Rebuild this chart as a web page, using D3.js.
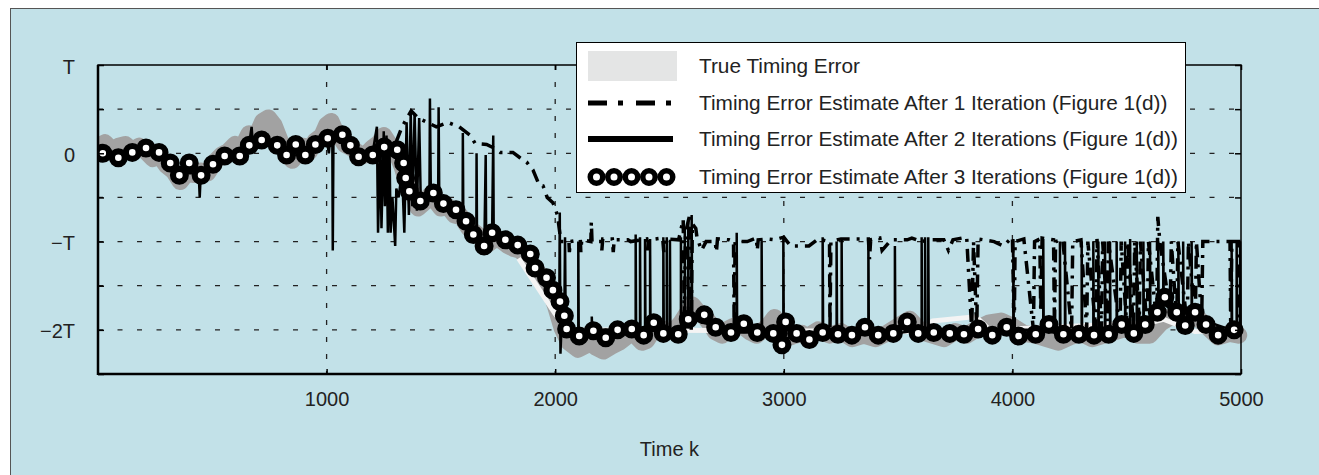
<!DOCTYPE html>
<html><head><meta charset="utf-8">
<script src="https://cdn.jsdelivr.net/npm/d3@7"></script>
<style>body{margin:0;background:#fff}svg{display:block}text{font-family:"Liberation Sans",Arial,sans-serif;fill:#222}</style>
</head><body><svg id="c" width="1319" height="475"></svg>
<script>
// ---------- data (units: k samples, T) ----------
const xTickValues = [1000, 2000, 3000, 4000, 5000];
const xTickLabels = ["1000", "2000", "3000", "4000", "5000"];
const yTickValues = [-2.5, -2, -1.5, -1, -0.5, 0, 0.5, 1];
const yTickLabels = ["", "\u22122T", "", "\u2212T", "", "0", "", "T"];
const legendLabels = [
  "True Timing Error",
  "Timing Error Estimate After 1 Iteration (Figure 1(d))",
  "Timing Error Estimate After 2 Iterations (Figure 1(d))",
  "Timing Error Estimate After 3 Iterations (Figure 1(d))"
];
// True timing error (noisy band)
const trueBand = [[0,0.08],[30,0.12],[60,0.04],[90,0.08],[120,0.1],[150,0.03],[180,0.08],[210,0.02],[240,-0.06],[270,-0.03],[300,-0.14],[330,-0.2],[360,-0.32],[390,-0.22],[420,-0.24],[450,-0.2],[480,-0.22],[510,-0.1],[540,-0.02],[570,0.02],[600,0.1],[630,0.06],[660,0.22],[690,0.18],[720,0.36],[745,0.4],[770,0.32],[800,0.12],[825,0.02],[850,-0.08],[880,0.02],[900,0.08],[925,0.02],[950,0.14],[980,0.2],[1000,0.32],[1020,0.36],[1040,0.24],[1060,0.18],[1080,0.1],[1110,0.06],[1140,0.0],[1170,-0.02],[1200,0.06],[1230,0.12],[1250,0.2],[1275,0.1],[1300,0.04],[1330,-0.15],[1350,-0.32],[1380,-0.45],[1400,-0.62],[1430,-0.55],[1450,-0.48],[1480,-0.55],[1500,-0.62],[1530,-0.6],[1560,-0.7],[1590,-0.72],[1620,-0.84],[1660,-0.92],[1700,-1.04],[1730,-0.98],[1760,-0.98],[1790,-1.04],[1820,-1.08],[1850,-1.1],[1880,-1.2],[1910,-1.3],[1940,-1.4],[1970,-1.5],[2000,-1.72],[2030,-1.98],[2060,-2.14],[2100,-2.22],[2130,-2.18],[2150,-2.14],[2180,-2.2],[2210,-2.24],[2250,-2.18],[2280,-2.14],[2300,-2.1],[2330,-2.04],[2350,-2.06],[2380,-2.14],[2400,-2.12],[2430,-2.0],[2450,-1.95],[2480,-2.02],[2500,-2.02],[2530,-1.98],[2550,-1.92],[2580,-1.8],[2600,-1.72],[2620,-1.78],[2650,-1.84],[2680,-1.94],[2700,-2.02],[2730,-2.06],[2750,-2.0],[2780,-1.96],[2800,-1.94],[2830,-1.98],[2850,-2.02],[2880,-2.06],[2900,-2.02],[2930,-1.96],[2960,-1.86],[2980,-1.94],[3000,-2.02],[3030,-2.08],[3050,-2.06],[3080,-2.04],[3100,-2.08],[3150,-2.0],[3200,-2.06],[3250,-2.02],[3300,-2.1],[3350,-2.06],[3400,-2.1],[3450,-2.04],[3500,-1.96],[3550,-1.88],[3580,-1.96],[3600,-2.02],[3650,-2.06],[3700,-2.1],[3750,-2.02],[3800,-2.06],[3850,-1.98],[3900,-1.92],[3950,-1.9],[4000,-1.96],[4050,-2.04],[4100,-2.06],[4150,-2.1],[4200,-2.14],[4250,-2.08],[4300,-2.04],[4350,-2.1],[4400,-2.06],[4450,-2.02],[4500,-1.98],[4550,-2.06],[4600,-2.06],[4650,-1.92],[4700,-1.84],[4750,-1.9],[4800,-1.84],[4850,-1.96],[4900,-2.08],[4950,-2.04],[4990,-2.06]];
// True timing error trend (light line, visible parts)
const trueTrend = [[1840,-1.19],[2000,-1.82],[2060,-2.0],[3600,-2.02],[3650,-1.9],[3840,-1.85],[3900,-2.0],[4600,-1.92],[4660,-1.88],[4800,-2.02],[4980,-2.0]];
// Estimate after 1 iteration (dash-dot)
const iter1 = [[0,0.0],[100,-0.03],[200,0.05],[300,-0.1],[360,-0.22],[450,-0.22],[550,-0.03],[700,0.14],[850,0.0],[1000,0.16],[1070,0.2],[1150,0.0],[1250,0.05],[1300,0.1],[1330,0.3],[1370,0.48],[1400,0.4],[1440,0.35],[1480,0.3],[1530,0.35],[1580,0.3],[1630,0.2],[1650,0.11],[1700,0.1],[1740,0.05],[1760,0.01],[1815,0.01],[1846,-0.05],[1875,-0.1],[1903,-0.19],[1930,-0.36],[1947,-0.37],[1965,-0.5],[1990,-0.56],[2010,-0.7],[2025,-1.0],[2060,-1.0],[2062,-1.12],[2066,-1.0],[2110,-0.98],[2112,-1.12],[2116,-0.98],[2156,-1.0],[2158,-0.78],[2161,-1.0],[2200,-1.0],[2204,-1.1],[2208,-0.97],[2250,-0.97],[2254,-1.12],[2258,-0.98],[2318,-0.98],[2330,-1.0],[2400,-0.97],[2404,-1.1],[2408,-0.98],[2470,-0.96],[2475,-1.12],[2480,-0.97],[2540,-0.98],[2560,-0.75],[2565,-2.0],[2570,-0.9],[2590,-0.68],[2595,-2.0],[2600,-0.8],[2615,-0.85],[2620,-0.95],[2640,-1.1],[2660,-1.0],[2700,-1.0],[2705,-1.12],[2710,-0.97],[2760,-0.98],[2780,-1.0],[2783,-2.0],[2787,-1.0],[2840,-1.0],[2880,-0.96],[2884,-1.1],[2888,-0.98],[2930,-0.97],[2960,-0.98],[3000,-0.95],[3030,-1.05],[3070,-1.05],[3110,-1.05],[3150,-0.97],[3200,-1.0],[3202,-2.0],[3206,-1.0],[3250,-0.97],[3370,-0.97],[3375,-1.2],[3380,-0.98],[3420,-0.96],[3430,-1.1],[3470,-0.98],[3540,-0.98],[3560,-0.96],[3600,-1.0],[3640,-0.98],[3700,-0.98],[3720,-1.1],[3740,-0.98],[3800,-0.95],[3822,-2.0],[3830,-1.0],[3844,-2.0],[3850,-0.97],[3920,-1.0],[3960,-1.05],[4000,-0.95],[4008,-2.0],[4012,-1.0],[4050,-0.97],[4092,-2.0],[4097,-1.0],[4120,-0.97],[4124,-1.8],[4130,-0.96],[4180,-0.98],[4184,-2.0],[4189,-1.0],[4220,-0.98],[4259,-2.0],[4264,-1.0],[4300,-0.98],[4325,-2.0],[4330,-1.0],[4365,-2.0],[4370,-0.97],[4390,-2.0],[4395,-1.0],[4415,-1.9],[4420,-1.0],[4471,-2.0],[4476,-1.0],[4500,-1.95],[4505,-1.0],[4530,-2.0],[4535,-1.0],[4555,-1.9],[4560,-1.0],[4590,-2.0],[4595,-1.0],[4631,-1.9],[4636,-0.72],[4645,-1.0],[4690,-1.8],[4695,-1.0],[4719,-1.9],[4724,-1.0],[4765,-1.95],[4770,-1.0],[4800,-1.9],[4805,-1.0],[4828,-1.9],[4833,-1.0],[4880,-1.0],[4952,-1.0],[4955,-2.0],[4960,-1.0],[4990,-1.0],[4993,-2.0]];
// Estimate after 2 iterations (solid) – path up to k≈2060
const iter2 = [[0,0],[50,-0.02],[100,-0.04],[150,0.02],[210,0.05],[270,0.0],[320,-0.1],[360,-0.22],[400,-0.12],[440,-0.2],[445,-0.5],[450,-0.2],[500,-0.12],[560,-0.03],[620,-0.02],[660,0.08],[672,0.3],[678,0.08],[720,0.14],[780,0.08],[830,-0.02],[870,0.08],[910,-0.02],[950,0.08],[1000,0.16],[1010,0.0],[1015,0.16],[1025,0.17],[1027,-1.1],[1030,0.18],[1070,0.2],[1110,0.08],[1140,-0.03],[1200,-0.02],[1220,0.3],[1225,-0.9],[1235,0.1],[1240,-0.85],[1250,0.25],[1255,-0.6],[1262,0.2],[1268,-0.9],[1275,0.1],[1280,-0.9],[1288,-0.5],[1300,-1.05],[1305,-0.4],[1315,-0.5],[1330,-0.2],[1340,-0.9],[1350,0.35],[1360,-0.7],[1368,0.48],[1375,-0.6],[1385,0.45],[1395,-0.65],[1405,0.4],[1412,-0.55],[1420,-0.5],[1450,-0.45],[1452,0.62],[1456,-0.45],[1488,-0.5],[1490,0.52],[1493,-0.55],[1510,-0.57],[1560,-0.64],[1595,-0.7],[1596,0.23],[1598,-0.72],[1620,-0.8],[1655,-0.95],[1656,0.0],[1658,-0.95],[1690,-1.05],[1696,-0.02],[1698,-1.0],[1724,-0.9],[1729,0.2],[1731,-0.9],[1780,-0.98],[1836,-1.04],[1890,-1.14],[1912,-1.3],[1960,-1.41],[1990,-1.55],[2018,-1.68],[2020,-0.67],[2023,-2.27],[2030,-1.8],[2040,-1.84],[2043,-0.95],[2046,-2.0],[2060,-2.02]];
// Estimate after 2 iterations – spikes after k≈2060: [k, base, top]
const iter2Spikes = [[2101,-2.05,-1.0],[2160,-2.0,-1.85],[2352,-2.0,-0.92],[2371,-2.0,-0.95],[2393,-2.05,-0.97],[2415,-2.0,-0.97],[2473,-2.05,-0.95],[2488,-2.05,-0.95],[2502,-2.05,-0.98],[2550,-2.0,-0.95],[2567,-1.95,-0.85],[2582,-1.9,-0.78],[2597,-1.88,-0.7],[2794,-2.03,-0.9],[2903,-2.03,-1.0],[2998,-2.1,-0.95],[3170,-2.03,-0.95],[3231,-2.05,-1.0],[3253,-2.05,-0.97],[3370,-2.05,-1.0],[3486,-2.04,-1.05],[3603,-2.0,-0.95],[3618,-2.0,-0.95],[3632,-2.03,-0.95],[4004,-2.0,-0.97],[4135,-2.0,-0.97],[4208,-2.05,-1.0],[4230,-2.05,-1.0],[4303,-2.05,-1.0],[4354,-2.05,-1.0],[4376,-2.05,-1.0],[4405,-2.05,-1.0],[4427,-2.05,-1.0],[4456,-2.0,-1.0],[4493,-2.0,-1.0],[4515,-2.0,-0.97],[4544,-2.0,-1.0],[4573,-1.95,-1.0],[4602,-1.9,-1.0],[4638,-1.8,-1.0],[4660,-1.7,-1.0],[4726,-1.85,-1.0],[4747,-1.95,-1.0],[4784,-1.85,-1.0],[4959,-2.0,-1.0],[4981,-2.0,-1.0],[4996,-2.0,-1.0]];
// Estimate after 3 iterations (circle markers)
const iter3K = [21,89,150,210,267,316,356,399,451,503,554,620,662,716,784,825,865,907,951,1005,1069,1104,1140,1202,1252,1309,1337,1346,1362,1410,1467,1511,1566,1610,1642,1689,1724,1782,1836,1891,1912,1962,1990,2021,2040,2050,2105,2167,2221,2273,2335,2387,2431,2473,2538,2582,2652,2702,2769,2825,2884,2954,2992,3008,3056,3112,3170,3237,3298,3355,3413,3479,3540,3588,3656,3726,3788,3850,3912,3975,4027,4102,4160,4223,4291,4357,4421,4478,4531,4581,4634,4667,4719,4756,4799,4847,4900,4970];
const iter3V = [0.00,-0.05,0.01,0.06,0.01,-0.11,-0.25,-0.11,-0.25,-0.125,-0.03,-0.03,0.09,0.15,0.09,-0.02,0.10,-0.02,0.10,0.17,0.21,0.09,-0.04,-0.02,0.07,0.04,-0.11,-0.28,-0.43,-0.54,-0.45,-0.57,-0.64,-0.77,-0.92,-1.05,-0.90,-0.98,-1.04,-1.14,-1.30,-1.41,-1.55,-1.68,-1.84,-1.99,-2.07,-2.01,-2.09,-2.00,-1.99,-2.06,-1.92,-2.04,-2.05,-1.88,-1.83,-1.97,-2.03,-1.93,-2.03,-2.04,-2.17,-1.91,-2.04,-2.11,-2.03,-2.05,-2.06,-1.97,-2.06,-2.04,-1.91,-2.04,-2.03,-2.04,-2.05,-1.99,-2.06,-1.97,-2.07,-2.05,-1.94,-2.05,-2.05,-2.06,-2.05,-1.94,-2.04,-1.94,-1.80,-1.63,-1.80,-1.95,-1.80,-1.94,-2.06,-2.00];

// ---------- drawing ----------
const svg = d3.select("#c");
const W = 1319, H = 475;
const M = {l: 98, r: 1241, t: 65, b: 374};
const x = d3.scaleLinear().domain([0, 5000]).range([M.l, M.r]);
const y = d3.scaleLinear().domain([-2.5, 1]).range([M.b, M.t]);

svg.append("rect").attr("x", 10.5).attr("y", 8.5).attr("width", W).attr("height", H)
  .attr("fill", "#c2e1e8").attr("stroke", "#555").attr("stroke-width", 1);

// grid
const grid = svg.append("g");
grid.selectAll("line.h").data(yTickValues.filter(v => v > -2.5 && v < 1)).join("line")
  .attr("x1", M.l).attr("x2", M.r).attr("y1", d => y(d)).attr("y2", d => y(d))
  .attr("stroke", "#222").attr("stroke-width", 1.3).attr("stroke-dasharray", "5,14.5");
grid.selectAll("line.v").data(xTickValues.filter(v => v < 5000)).join("line")
  .attr("x1", d => x(d)).attr("x2", d => x(d)).attr("y1", M.t).attr("y2", M.b)
  .attr("stroke", "#222").attr("stroke-width", 1.3).attr("stroke-dasharray", "5,12");

svg.append("clipPath").attr("id", "pc").append("rect")
  .attr("x", M.l).attr("y", M.t - 20).attr("width", M.r - M.l + 12).attr("height", M.b - M.t + 20);
const plot = svg.append("g").attr("clip-path", "url(#pc)");
const line = d3.line().x(d => x(d[0])).y(d => y(d[1]));

plot.append("path").attr("d", line(trueBand)).attr("fill", "none")
  .attr("stroke", "#a2a2a2").attr("stroke-width", 17).attr("stroke-linejoin", "round").attr("stroke-linecap", "round");
plot.append("path").attr("d", line(trueTrend)).attr("fill", "none")
  .attr("stroke", "#f4f4f4").attr("stroke-width", 5).attr("stroke-linejoin", "round");
plot.append("path").attr("d", line(iter1)).attr("fill", "none")
  .attr("stroke", "#000").attr("stroke-width", 3.5).attr("stroke-dasharray", "13,7,3,7");
const iter2Full = iter2.concat(...iter2Spikes.map(s => [[s[0], s[1]], [s[0], s[2]], [s[0] + 2, s[1]]]));
plot.append("path").attr("d", line(iter2Full)).attr("fill", "none")
  .attr("stroke", "#000").attr("stroke-width", 2.5);
const iter3 = iter3K.map((k, i) => [k, iter3V[i]]);
plot.append("path").attr("d", line(iter3)).attr("fill", "none")
  .attr("stroke", "#000").attr("stroke-width", 7);
plot.selectAll("circle").data(iter3).join("circle")
  .attr("cx", d => x(d[0])).attr("cy", d => y(d[1])).attr("r", 6.4)
  .attr("fill", "#fff").attr("stroke", "#000").attr("stroke-width", 6.2);

// frame
svg.append("rect").attr("x", M.l).attr("y", M.t).attr("width", M.r - M.l).attr("height", M.b - M.t)
  .attr("fill", "none").attr("stroke", "#000").attr("stroke-width", 1.5);
svg.append("line").attr("x1", M.l).attr("x2", M.l).attr("y1", M.t).attr("y2", M.b + 1).attr("stroke", "#000").attr("stroke-width", 2.5);
svg.append("line").attr("x1", M.l).attr("x2", M.r).attr("y1", M.b).attr("y2", M.b).attr("stroke", "#000").attr("stroke-width", 2.5);

// axes
const yAxis = svg.append("g").attr("transform", `translate(${M.l},0)`)
  .call(d3.axisLeft(y).tickValues(yTickValues).tickSize(-6).tickPadding(23).tickFormat((d, i) => yTickLabels[i]));
const yAxisR = svg.append("g").attr("transform", `translate(${M.r},0)`)
  .call(d3.axisRight(y).tickValues(yTickValues).tickSize(-6).tickFormat(""));
const xAxis = svg.append("g").attr("transform", `translate(0,${M.b})`)
  .call(d3.axisBottom(x).tickValues(xTickValues).tickSize(-5).tickPadding(20).tickFormat((d, i) => xTickLabels[i]));
const xAxisT = svg.append("g").attr("transform", `translate(0,${M.t})`)
  .call(d3.axisTop(x).tickValues(xTickValues).tickSize(-5).tickFormat(""));
[yAxis, yAxisR, xAxis, xAxisT].forEach(g => {
  g.select(".domain").remove();
  g.selectAll(".tick line").attr("stroke", "#000").attr("stroke-width", 1.5);
  g.selectAll("text").style("font-family", "'Liberation Sans', Arial, sans-serif").style("font-size", "20px").attr("fill", "#222");
});
yAxis.selectAll("text").attr("dy", "0.4em");
xAxis.selectAll("text").attr("dy", "0.6em");

svg.append("text").attr("x", x(2500)).attr("y", 456).attr("text-anchor", "middle")
  .style("font-size", "20px").text("Time k");

// legend
const lg = svg.append("g");
lg.append("rect").attr("x", 576.5).attr("y", 42.5).attr("width", 609).attr("height", 150)
  .attr("fill", "#fff").attr("stroke", "#000").attr("stroke-width", 1);
const rowY = [66, 103, 139, 177];
lg.append("rect").attr("x", 588).attr("y", 51).attr("width", 89).attr("height", 30).attr("fill", "#e4e5e5");
lg.append("line").attr("x1", 588).attr("x2", 675).attr("y1", rowY[1]).attr("y2", rowY[1])
  .attr("stroke", "#000").attr("stroke-width", 5).attr("stroke-dasharray", "19,11,5,13");
lg.append("line").attr("x1", 588).attr("x2", 673).attr("y1", rowY[2]).attr("y2", rowY[2])
  .attr("stroke", "#000").attr("stroke-width", 6);
lg.selectAll("circle").data([0, 1, 2, 3, 4]).join("circle")
  .attr("cx", i => 596.5 + i * 17.5).attr("cy", rowY[3]).attr("r", 6.25)
  .attr("fill", "#fff").attr("stroke", "#000").attr("stroke-width", 5.5);
lg.selectAll("text").data(legendLabels).join("text")
  .attr("x", 699).attr("y", (d, i) => rowY[i] + 7).style("font-size", "20.8px").text(d => d);
</script></body></html>
